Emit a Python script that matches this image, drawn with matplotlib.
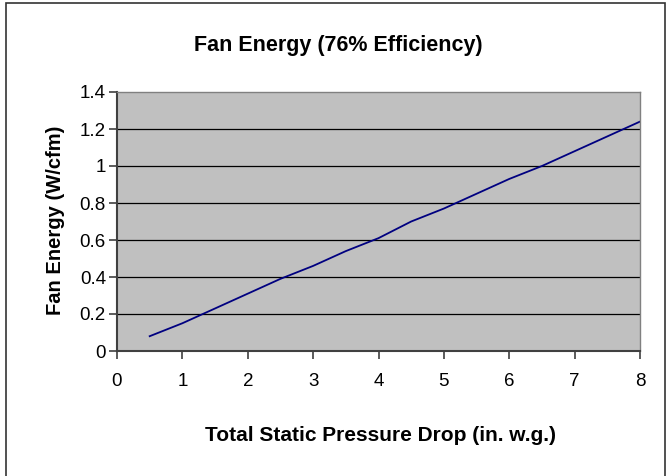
import matplotlib
matplotlib.use("Agg")
import matplotlib.pyplot as plt
from matplotlib.patches import Rectangle

# static pressure drop (in. w.g.) and fan energy (W/cfm) at 76% efficiency
pressure = [0.5, 1.0, 1.5, 2.0, 2.5, 3.0, 3.5, 4.0, 4.5, 5.0, 5.5, 6.0, 6.5, 7.0, 7.5, 8.0]
energy = [0.08, 0.15, 0.23, 0.31, 0.39, 0.46, 0.54, 0.61, 0.70, 0.77, 0.85, 0.93, 1.00, 1.08, 1.16, 1.24]
x_ticks = [0, 1, 2, 3, 4, 5, 6, 7, 8]
y_ticks = [0, 0.2, 0.4, 0.6, 0.8, 1.0, 1.2, 1.4]
y_tick_labels = ["0", "0.2", "0.4", "0.6", "0.8", "1", "1.2", "1.4"]

plt.rcParams["font.family"] = ["Liberation Sans", "DejaVu Sans"]

W, H = 668, 476
fig = plt.figure(figsize=(W / 100, H / 100), dpi=100)
fig.patches.append(Rectangle((6 / W, -0.05), 659 / W, 1.05 - 3 / H,
                             transform=fig.transFigure, fill=False,
                             edgecolor="#333333", linewidth=1.2))

ax = fig.add_axes([117 / W, 1 - 351 / H, (640 - 117) / W, (351 - 92) / H])
ax.set_facecolor("#c0c0c0")
ax.plot(pressure, energy, color="#000080", linewidth=1.3)

ax.set_xlim(0, 8)
ax.set_ylim(0, 1.4)
ax.set_xticks(x_ticks)
ax.set_yticks(y_ticks)
ax.set_yticklabels(y_tick_labels)
for y in y_ticks[1:-1]:
    ax.axhline(y, color="black", linewidth=0.9, zorder=1)

for side in ("left", "bottom"):
    ax.spines[side].set_color("#404040")
    ax.spines[side].set_linewidth(1.5)
for side in ("top", "right"):
    ax.spines[side].set_color("#808080")
    ax.spines[side].set_linewidth(1.0)
ax.tick_params(direction="out", length=6, width=1.2, color="#404040", labelsize=13.5)
ax.tick_params(axis="y", pad=2)
ax.tick_params(axis="x", pad=10)

ax.set_xlabel("Total Static Pressure Drop (in. w.g.)", fontsize=15, fontweight="bold")
ax.xaxis.set_label_coords(0.503, -0.328)
ax.xaxis.label.set_va("center")
ax.set_ylabel("Fan Energy (W/cfm)", fontsize=14.5, fontweight="bold")
ax.yaxis.set_label_coords(-0.1185, 0.506)
ax.yaxis.label.set_va("center")
fig.text(0.507, 1 - 45 / H, "Fan Energy (76% Efficiency)", ha="center", va="center",
         fontsize=15.5, fontweight="bold")

fig.savefig("out.png", dpi=100)
